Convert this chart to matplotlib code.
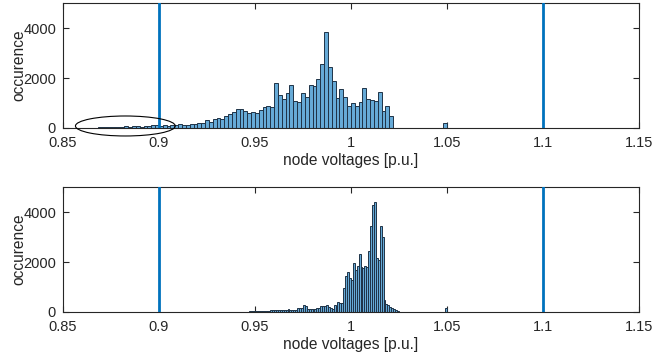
import numpy as np
import matplotlib
matplotlib.use("Agg")
import matplotlib.pyplot as plt
from matplotlib.patches import Ellipse

plt.rcParams['font.family'] = ['Liberation Sans', 'DejaVu Sans']

# ---------------- data ----------------
top_bin_start = 0.860
top_bin_width = 0.002
top_counts = [
    10, 10, 15, 15, 20, 20, 25, 20, 30, 50,
    40, 60, 40, 60, 60, 40, 70, 60, 100, 120,
    80, 100, 90, 110, 100, 147, 107, 107, 160, 160,
    200, 195, 315, 240, 355, 400, 360, 467, 555, 653,
    755, 747, 667, 580, 640, 613, 720, 827, 875, 827,
    1800, 1307, 1173, 1387, 1707, 1067, 1027, 1400, 1227, 1707,
    1667, 1947, 2560, 3827, 2427, 1867, 1213, 1547, 1253, 867,
    987, 880, 1040, 1587, 1160, 1120, 1080, 1440, 680, 867,
    493,
]
top_extra_start = [1.048]
top_extra_counts = [210]

bot_bin_start = 0.940
bot_bin_width = 0.001
bot_counts = [
    5, 5, 10, 10, 10, 15, 15, 20, 20, 20,
    25, 30, 50, 50, 40, 30, 50, 40, 90, 70,
    70, 90, 80, 90, 90, 80, 90, 120, 80, 80,
    90, 80, 160, 160, 140, 270, 240, 110, 110, 110,
    120, 110, 160, 160, 240, 240, 260, 270, 200, 150,
    120, 300, 240, 390, 350, 360, 950, 1430, 1620, 1350,
    1300, 1950, 1700, 1840, 2320, 1810, 1760, 1830, 1800, 2440,
    3450, 4300, 4420, 2150, 2100, 3450, 3000, 480, 340, 280,
    200, 150, 100, 60, 30, 15,
]
bot_extra_start = [1.049]
bot_extra_counts = [150]

limits = [0.9, 1.1]
xticks = [0.85, 0.9, 0.95, 1.0, 1.05, 1.1, 1.15]
xticklabels = ['0.85', '0.9', '0.95', '1', '1.05', '1.1', '1.15']
yticks = [0, 2000, 4000]
yticklabels = ['0', '2000', '4000']
xlabel = 'node voltages [p.u.]'
ylabel = 'occurence'

# ---------------- style ----------------
face = (0.4, 0.667, 0.843)
edge = (0.12, 0.2, 0.28)
line_c = '#0072BD'
fs = 10.5

fig = plt.figure(figsize=(6.65, 3.58), dpi=100)
ax1 = fig.add_axes([0.0947, 0.6425, 0.866, 0.349])
ax2 = fig.add_axes([0.0947, 0.1285, 0.866, 0.349])


def draw(ax, start, width, counts, ex_start, ex_counts):
    lefts = start + width * np.arange(len(counts))
    ax.bar(lefts, counts, width=width, align='edge', color=face,
           edgecolor=edge, linewidth=0.7, zorder=2)
    ax.bar(ex_start, ex_counts, width=width, align='edge', color=face,
           edgecolor=edge, linewidth=0.7, zorder=2)
    for v in limits:
        ax.axvline(v, color=line_c, lw=2, zorder=3)
    ax.set_xlim(0.85, 1.15)
    ax.set_ylim(0, 5000)
    ax.set_xticks(xticks)
    ax.set_xticklabels(xticklabels, fontsize=fs)
    ax.set_yticks(yticks)
    ax.set_yticklabels(yticklabels, fontsize=fs)
    ax.tick_params(direction='in', top=True, right=True, length=4,
                   width=0.8, color='#262626', labelcolor='#262626')
    ax.tick_params(axis='x', pad=6)
    ax.tick_params(axis='y', pad=5)
    for s in ax.spines.values():
        s.set_linewidth(0.8)
        s.set_color('#262626')
    ax.set_xlabel(xlabel, fontsize=fs + 0.7, color='#262626', labelpad=2)
    ax.set_ylabel(ylabel, fontsize=fs + 0.7, color='#262626', labelpad=-2)


draw(ax1, top_bin_start, top_bin_width, top_counts, top_extra_start, top_extra_counts)
draw(ax2, bot_bin_start, bot_bin_width, bot_counts, bot_extra_start, bot_extra_counts)

ell = Ellipse((0.8825, 80), width=0.052, height=800, fill=False,
              edgecolor='black', lw=0.8, clip_on=False, zorder=4)
ax1.add_patch(ell)

fig.savefig('out.png', dpi=100)
